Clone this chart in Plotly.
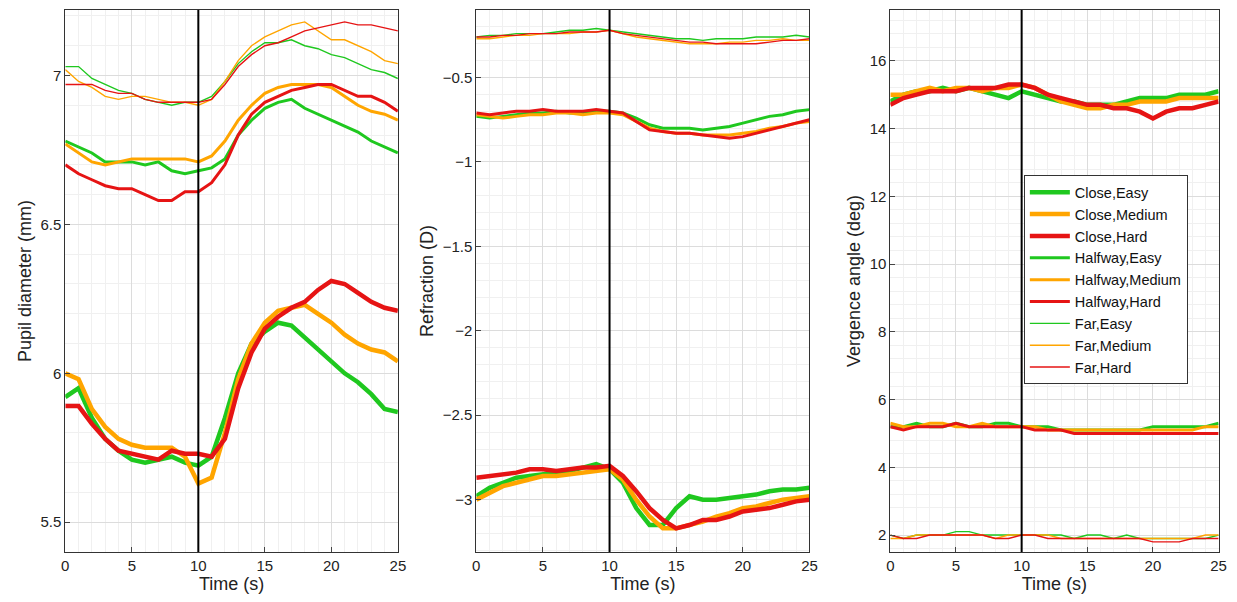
import plotly.graph_objects as go

t = list(range(26))

# Pupil diameter (mm)
pup_close_easy = [5.92, 5.95, 5.85, 5.78, 5.74, 5.71, 5.70, 5.71, 5.72, 5.70, 5.69, 5.72, 5.85, 6.00, 6.10, 6.14, 6.17, 6.16, 6.12, 6.08, 6.04, 6.00, 5.97, 5.93, 5.88, 5.87]
pup_close_med = [6.00, 5.98, 5.88, 5.82, 5.78, 5.76, 5.75, 5.75, 5.75, 5.72, 5.63, 5.65, 5.80, 5.98, 6.10, 6.17, 6.21, 6.22, 6.23, 6.20, 6.17, 6.13, 6.10, 6.08, 6.07, 6.04]
pup_close_hard = [5.89, 5.89, 5.83, 5.78, 5.74, 5.73, 5.72, 5.71, 5.74, 5.73, 5.73, 5.72, 5.78, 5.95, 6.07, 6.15, 6.19, 6.22, 6.24, 6.28, 6.31, 6.30, 6.27, 6.24, 6.22, 6.21]
pup_half_easy = [6.78, 6.76, 6.74, 6.71, 6.71, 6.71, 6.70, 6.71, 6.68, 6.67, 6.68, 6.69, 6.72, 6.80, 6.85, 6.89, 6.91, 6.92, 6.89, 6.87, 6.85, 6.83, 6.81, 6.78, 6.76, 6.74]
pup_half_med = [6.77, 6.74, 6.71, 6.70, 6.71, 6.72, 6.72, 6.72, 6.72, 6.72, 6.71, 6.73, 6.78, 6.85, 6.90, 6.94, 6.96, 6.97, 6.97, 6.97, 6.96, 6.93, 6.90, 6.88, 6.87, 6.85]
pup_half_hard = [6.70, 6.67, 6.65, 6.63, 6.62, 6.62, 6.60, 6.58, 6.58, 6.61, 6.61, 6.64, 6.70, 6.80, 6.87, 6.91, 6.93, 6.95, 6.96, 6.97, 6.97, 6.95, 6.93, 6.93, 6.91, 6.88]
pup_far_easy = [7.03, 7.03, 6.99, 6.97, 6.95, 6.94, 6.92, 6.91, 6.90, 6.91, 6.91, 6.93, 6.98, 7.04, 7.08, 7.11, 7.11, 7.12, 7.10, 7.09, 7.07, 7.06, 7.04, 7.02, 7.01, 6.99]
pup_far_med = [7.02, 6.98, 6.96, 6.93, 6.92, 6.93, 6.93, 6.92, 6.91, 6.91, 6.90, 6.92, 6.98, 7.05, 7.10, 7.13, 7.15, 7.17, 7.18, 7.15, 7.12, 7.12, 7.10, 7.08, 7.05, 7.04]
pup_far_hard = [6.97, 6.97, 6.97, 6.95, 6.94, 6.94, 6.92, 6.91, 6.91, 6.91, 6.91, 6.92, 6.97, 7.03, 7.07, 7.10, 7.11, 7.13, 7.15, 7.16, 7.17, 7.18, 7.17, 7.17, 7.16, 7.15]

# Refraction (D)
ref_close_easy = [-2.98, -2.93, -2.90, -2.87, -2.86, -2.85, -2.84, -2.83, -2.81, -2.79, -2.82, -2.90, -3.05, -3.15, -3.15, -3.05, -2.98, -3.00, -3.00, -2.99, -2.98, -2.97, -2.95, -2.94, -2.94, -2.93]
ref_close_med = [-3.00, -2.96, -2.92, -2.90, -2.88, -2.86, -2.86, -2.85, -2.84, -2.83, -2.82, -2.88, -3.00, -3.10, -3.17, -3.17, -3.15, -3.13, -3.10, -3.08, -3.05, -3.04, -3.02, -3.00, -2.99, -2.98]
ref_close_hard = [-2.87, -2.86, -2.85, -2.84, -2.82, -2.82, -2.83, -2.82, -2.81, -2.81, -2.80, -2.86, -2.95, -3.05, -3.12, -3.17, -3.15, -3.12, -3.12, -3.10, -3.07, -3.06, -3.05, -3.03, -3.01, -3.00]
ref_half_easy = [-0.73, -0.74, -0.73, -0.72, -0.71, -0.71, -0.70, -0.71, -0.71, -0.70, -0.70, -0.71, -0.74, -0.78, -0.80, -0.80, -0.80, -0.81, -0.80, -0.79, -0.77, -0.75, -0.73, -0.72, -0.70, -0.69]
ref_half_med = [-0.72, -0.73, -0.74, -0.73, -0.72, -0.72, -0.71, -0.71, -0.72, -0.71, -0.71, -0.72, -0.76, -0.80, -0.82, -0.83, -0.83, -0.84, -0.84, -0.84, -0.83, -0.82, -0.80, -0.79, -0.77, -0.76]
ref_half_hard = [-0.71, -0.72, -0.71, -0.70, -0.70, -0.69, -0.70, -0.70, -0.70, -0.69, -0.70, -0.71, -0.76, -0.81, -0.82, -0.83, -0.83, -0.84, -0.85, -0.86, -0.85, -0.83, -0.81, -0.79, -0.77, -0.75]
ref_far_easy = [-0.26, -0.25, -0.25, -0.24, -0.24, -0.24, -0.23, -0.22, -0.22, -0.21, -0.22, -0.23, -0.24, -0.25, -0.26, -0.27, -0.27, -0.28, -0.27, -0.27, -0.27, -0.26, -0.26, -0.26, -0.25, -0.26]
ref_far_med = [-0.27, -0.27, -0.26, -0.25, -0.25, -0.24, -0.24, -0.24, -0.23, -0.23, -0.22, -0.24, -0.26, -0.27, -0.28, -0.29, -0.30, -0.30, -0.30, -0.29, -0.29, -0.28, -0.28, -0.27, -0.28, -0.28]
ref_far_hard = [-0.26, -0.26, -0.25, -0.25, -0.24, -0.24, -0.24, -0.23, -0.23, -0.23, -0.22, -0.24, -0.25, -0.26, -0.27, -0.28, -0.29, -0.29, -0.30, -0.30, -0.30, -0.30, -0.29, -0.28, -0.28, -0.27]

# Vergence angle (deg)
ver_close_easy = [14.8, 15.0, 15.1, 15.1, 15.2, 15.1, 15.2, 15.1, 15.0, 14.9, 15.1, 15.0, 14.9, 14.8, 14.8, 14.7, 14.7, 14.7, 14.8, 14.9, 14.9, 14.9, 15.0, 15.0, 15.0, 15.1]
ver_close_med = [15.0, 15.0, 15.1, 15.2, 15.1, 15.2, 15.2, 15.1, 15.2, 15.2, 15.3, 15.2, 15.0, 14.8, 14.7, 14.6, 14.6, 14.7, 14.7, 14.8, 14.8, 14.8, 14.9, 14.9, 14.9, 14.9]
ver_close_hard = [14.7, 14.9, 15.0, 15.1, 15.1, 15.1, 15.2, 15.2, 15.2, 15.3, 15.3, 15.2, 15.0, 14.9, 14.8, 14.7, 14.7, 14.6, 14.6, 14.5, 14.3, 14.5, 14.6, 14.6, 14.7, 14.8]
ver_half_easy = [5.2, 5.2, 5.3, 5.2, 5.2, 5.3, 5.2, 5.2, 5.3, 5.3, 5.2, 5.2, 5.2, 5.1, 5.1, 5.1, 5.1, 5.1, 5.1, 5.1, 5.2, 5.2, 5.2, 5.2, 5.2, 5.3]
ver_half_med = [5.3, 5.2, 5.2, 5.3, 5.3, 5.2, 5.2, 5.3, 5.2, 5.2, 5.2, 5.2, 5.1, 5.1, 5.1, 5.1, 5.1, 5.1, 5.1, 5.1, 5.1, 5.1, 5.1, 5.1, 5.2, 5.2]
ver_half_hard = [5.2, 5.1, 5.2, 5.2, 5.2, 5.3, 5.2, 5.2, 5.2, 5.2, 5.2, 5.1, 5.1, 5.1, 5.0, 5.0, 5.0, 5.0, 5.0, 5.0, 5.0, 5.0, 5.0, 5.0, 5.0, 5.0]
ver_far_easy = [2.0, 1.9, 2.0, 2.0, 2.0, 2.1, 2.1, 2.0, 2.0, 2.0, 2.0, 2.0, 2.0, 2.0, 1.9, 2.0, 2.0, 1.9, 2.0, 1.9, 1.9, 1.9, 1.9, 1.9, 1.9, 2.0]
ver_far_med = [1.9, 1.9, 2.0, 2.0, 2.0, 2.0, 2.0, 2.0, 1.9, 2.0, 2.0, 2.0, 2.0, 1.9, 1.9, 1.9, 1.9, 1.9, 1.9, 1.9, 1.9, 1.9, 1.9, 1.9, 2.0, 2.0]
ver_far_hard = [2.0, 1.9, 1.9, 2.0, 2.0, 2.0, 2.0, 2.0, 1.9, 1.9, 2.0, 2.0, 1.9, 1.9, 1.9, 1.9, 1.9, 1.9, 1.9, 1.9, 1.8, 1.8, 1.8, 1.9, 1.9, 1.9]

names = ["Close,Easy", "Close,Medium", "Close,Hard", "Halfway,Easy", "Halfway,Medium",
         "Halfway,Hard", "Far,Easy", "Far,Medium", "Far,Hard"]
colors = ["#1fc81f", "#ffa500", "#e61414"] * 3
widths = [4.5] * 3 + [3] * 3 + [1.4] * 3

panels = [
    [pup_close_easy, pup_close_med, pup_close_hard, pup_half_easy, pup_half_med, pup_half_hard, pup_far_easy, pup_far_med, pup_far_hard],
    [ref_close_easy, ref_close_med, ref_close_hard, ref_half_easy, ref_half_med, ref_half_hard, ref_far_easy, ref_far_med, ref_far_hard],
    [ver_close_easy, ver_close_med, ver_close_hard, ver_half_easy, ver_half_med, ver_half_hard, ver_far_easy, ver_far_med, ver_far_hard],
]

fig = go.Figure()
for p, series in enumerate(panels):
    ax = "" if p == 0 else str(p + 1)
    for i, y in enumerate(series):
        fig.add_trace(go.Scatter(x=t, y=y, mode="lines", name=names[i],
                                 line=dict(color=colors[i], width=widths[i]),
                                 xaxis="x" + ax, yaxis="y" + ax, showlegend=(p == 2)))

domains = [[0.0435, 0.315], [0.379, 0.651], [0.717, 0.985]]
yranges = [[5.40, 7.22], [-3.31, -0.1], [1.5, 17.5]]
ydticks = [0.5, 0.5, 2]
ytitles = ["Pupil diameter (mm)", "Refraction (D)", "Vergence angle (deg)"]

font = dict(family="Liberation Sans, Arial", size=15, color="#222")
axstyle = dict(showline=True, mirror=True, linecolor="#333", linewidth=1, ticks="inside",
               ticklen=5, showgrid=True, gridcolor="#dcdcdc", zeroline=False,
               tickfont=font)
layout = dict(width=1237, height=602, plot_bgcolor="white", paper_bgcolor="white",
              margin=dict(l=0, r=0, t=2, b=58), font=font,
              legend=dict(x=0.826, y=0.695, xanchor="left", yanchor="top",
                          bgcolor="white", bordercolor="#333", borderwidth=1,
                          font=dict(family="Liberation Sans, Arial", size=14.5, color="#111"),
                          tracegroupgap=0, itemwidth=40))
for p in range(3):
    ax = "" if p == 0 else str(p + 1)
    layout["xaxis" + ax] = dict(axstyle, domain=domains[p], range=[0, 25], dtick=5,
                                anchor="y" + ax, title=dict(text="Time (s)", standoff=2),
                                minor=dict(dtick=1, showgrid=True, gridcolor="#f0f0f0"))
    layout["yaxis" + ax] = dict(axstyle, domain=[0, 1], range=yranges[p], dtick=ydticks[p],
                                anchor="x" + ax, title=dict(text=ytitles[p], standoff=4),
                                minor=dict(dtick=ydticks[p] / 5, showgrid=True, gridcolor="#f0f0f0"))
fig.update_layout(**layout)

for p in range(3):
    ax = "" if p == 0 else str(p + 1)
    fig.add_shape(type="line", xref="x" + ax, yref="y" + ax + " domain", x0=10, x1=10, y0=0, y1=1,
                  line=dict(color="black", width=2))

fig.write_html("out.html")
